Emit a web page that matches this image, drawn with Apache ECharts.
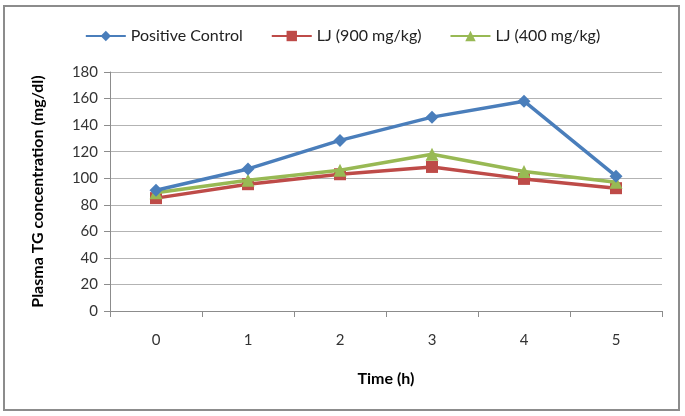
<!DOCTYPE html>
<html>
<head>
<meta charset="utf-8">
<script src="https://cdn.jsdelivr.net/npm/echarts@6/dist/echarts.min.js"></script>
<style>
html,body{margin:0;padding:0;background:#fff;}
#frame{position:absolute;left:3px;top:5px;width:677px;height:406px;border:2px solid #8c8c8c;box-sizing:border-box;}
#chart{position:absolute;left:0;top:0;width:685px;height:416px;}
</style>
</head>
<body>
<div id="frame"></div>
<div id="chart"></div>
<script>
const categories = ['0', '1', '2', '3', '4', '5'];
const positiveControl = [91, 107, 128.5, 146, 158, 101.5];
const lj900 = [85, 95.5, 103, 108.5, 99.5, 92.5];
const lj400 = [89, 98.5, 106, 118, 105, 97];
const yTicks = { min: 0, max: 180, interval: 20 };

const font = 'Lato, "Open Sans", sans-serif';
const chart = echarts.init(document.getElementById('chart'));
chart.setOption({
  animation: false,
  backgroundColor: 'transparent',
  legend: {
    top: 23,
    left: 'center',
    itemWidth: 40,
    itemHeight: 13,
    itemGap: 28,
    textStyle: { fontFamily: font, fontSize: 16, color: '#222' },
    data: ['Positive Control', 'LJ (900 mg/kg)', 'LJ (400 mg/kg)']
  },
  grid: { left: 110, right: 23, top: 72, bottom: 105 },
  xAxis: {
    type: 'category',
    data: categories,
    boundaryGap: true,
    name: 'Time (h)',
    nameLocation: 'middle',
    nameGap: 60,
    nameTextStyle: { fontFamily: font, fontSize: 16, fontWeight: 'bold', color: '#000' },
    axisLine: { lineStyle: { color: '#8c8c8c', width: 1 } },
    axisTick: { show: true, length: 6, lineStyle: { color: '#8c8c8c' } },
    axisLabel: { fontFamily: font, fontSize: 15, color: '#333', margin: 22 },
    splitLine: { show: false }
  },
  yAxis: {
    type: 'value',
    min: yTicks.min, max: yTicks.max, interval: yTicks.interval,
    name: 'Plasma TG concentration (mg/dl)',
    nameLocation: 'middle',
    nameGap: 64,
    nameTextStyle: { fontFamily: font, fontSize: 16, fontWeight: 'bold', color: '#000' },
    axisLine: { show: true, lineStyle: { color: '#8c8c8c', width: 1 } },
    axisTick: { show: true, inside: false, length: 6, lineStyle: { color: '#8c8c8c' } },
    axisLabel: { fontFamily: font, fontSize: 15, color: '#333', margin: 12 },
    splitLine: { show: true, lineStyle: { color: '#b3b3b3', width: 1 } }
  },
  series: [
    {
      name: 'Positive Control', type: 'line', data: positiveControl,
      symbol: 'diamond', symbolSize: 13,
      lineStyle: { color: '#4a7ebb', width: 3.5 },
      itemStyle: { color: '#4a7ebb' }, z: 4
    },
    {
      name: 'LJ (900 mg/kg)', type: 'line', data: lj900,
      symbol: 'rect', symbolSize: 12,
      lineStyle: { color: '#be4b48', width: 3.5 },
      itemStyle: { color: '#be4b48' }, z: 2
    },
    {
      name: 'LJ (400 mg/kg)', type: 'line', data: lj400,
      symbol: 'triangle', symbolSize: 13,
      lineStyle: { color: '#98b954', width: 3.5 },
      itemStyle: { color: '#98b954' }, z: 3
    }
  ]
});
</script>
</body>
</html>
